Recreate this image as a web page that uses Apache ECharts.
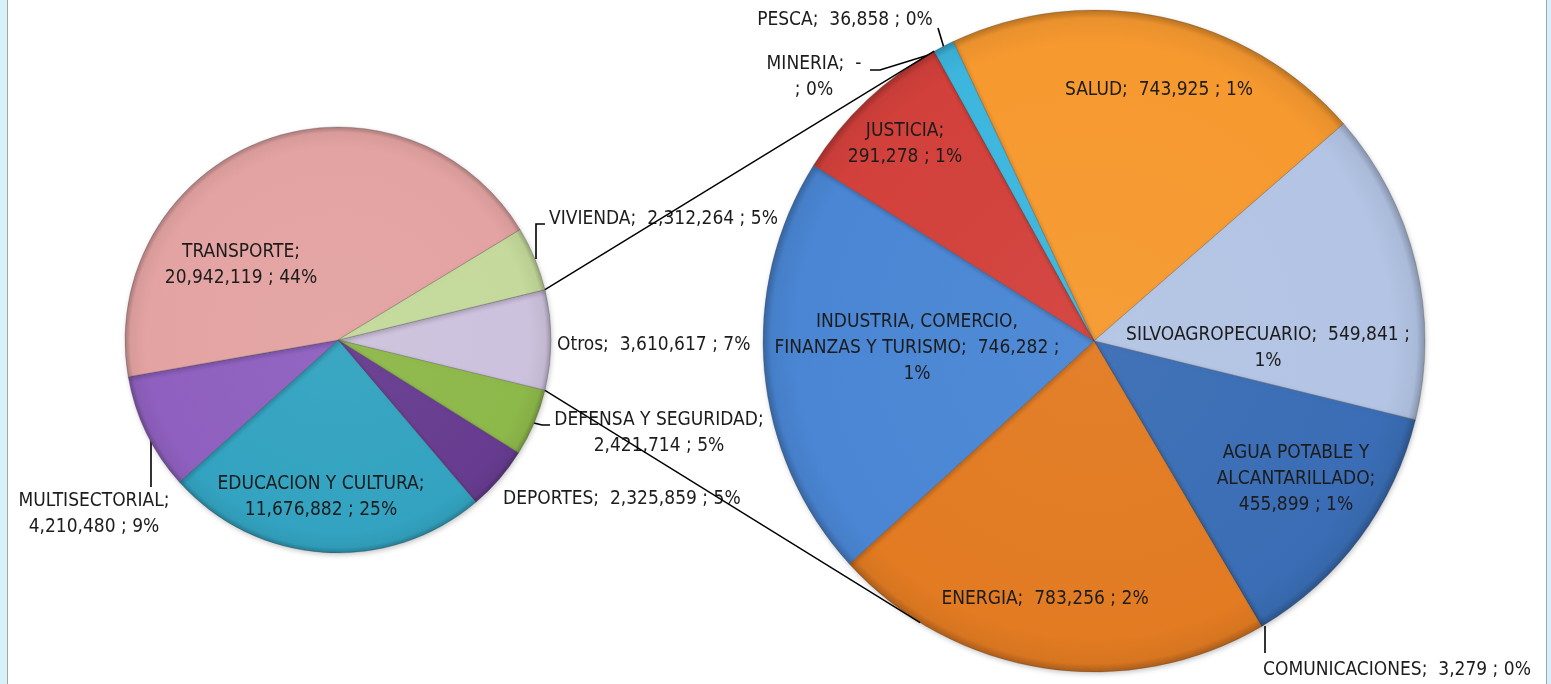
<!DOCTYPE html>
<html>
<head>
<meta charset="utf-8">
<title>Inversión por sector</title>
<script src="https://cdn.jsdelivr.net/npm/echarts@6/dist/echarts.min.js"></script>
<style>
html, body { margin: 0; padding: 0; width: 1551px; height: 684px; overflow: hidden; background: #d6f1f9; }
.sheet { position: absolute; left: 7px; top: 0; width: 1538px; height: 684px; background: #fff; border-left: 1px solid #a3a3a3; border-right: 1px solid #a3a3a3; }
#chart { position: absolute; left: 0; top: 0; width: 1551px; height: 684px; }
</style>
</head>
<body>
<div class="sheet"></div>
<div id="chart"></div>
<script>
// primer circulo: sectores (Otros va primero, centrado a la derecha)
const mainNames = ['Otros', 'DEFENSA Y SEGURIDAD', 'DEPORTES', 'EDUCACION Y CULTURA', 'MULTISECTORIAL', 'TRANSPORTE', 'VIVIENDA']
const mainValues = [3610617, 2421714, 2325859, 11676882, 4210480, 20942119, 2312264]
const mainPct = [7, 5, 5, 25, 9, 44, 5]
const mainColors = ['#cdc2dd', '#8db84a', '#673c90', '#33a3c1', '#8f60bf', '#e3a3a2', '#c4d99b']

// segundo circulo: desglose de Otros
const otrosNames = ['SALUD', 'SILVOAGROPECUARIO', 'AGUA POTABLE Y ALCANTARILLADO', 'COMUNICACIONES', 'ENERGIA', 'INDUSTRIA, COMERCIO, FINANZAS Y TURISMO', 'JUSTICIA', 'MINERIA', 'PESCA']
const otrosValues = [743925, 549841, 455899, 3279, 783256, 746282, 291278, 0, 36858]
const otrosPct = [1, 1, 1, 0, 2, 1, 1, 0, 0]
const otrosColors = ['#f6992f', '#b3c4e4', '#3a6db5', '#2f5e9e', '#e27b22', '#4a86d4', '#d2403b', '#8a8a8a', '#3db6de']

// geometria
const left = { cx: 338, cy: 340, r: 213 }
const right = { cx: 1094, cy: 341, r: 331, start: 115.2 }
const bottomLinkAngle = -121.7

// posicion de etiquetas (brk: donde corta la linea)
const mainLayout = [
  { x: 557, y: 345, align: 'left', brk: 'none' },
  { x: 659, y: 433, brk: 'name', line: [[534, 423], [542, 425], [550, 425]] },
  { x: 503, y: 499, align: 'left', brk: 'none' },
  { x: 321, y: 497, brk: 'name' },
  { x: 94, y: 514, brk: 'name', line: [[151, 436], [151, 460], [151, 487]] },
  { x: 241, y: 265, brk: 'name' },
  { x: 549, y: 219, align: 'left', brk: 'none', line: [[536, 259], [536, 224], [545, 224]] },
]
const otrosLayout = [
  { x: 1159, y: 90, brk: 'none' },
  { x: 1268, y: 348, brk: 'value' },
  { x: 1296, y: 479, brk: 'name', wrapAt: 'POTABLE Y' },
  { x: 1263, y: 670, align: 'left', brk: 'none', line: [[1265, 626], [1265, 640], [1265, 653]] },
  { x: 1045, y: 599, brk: 'none' },
  { x: 917, y: 348, brk: 'value', wrapAt: 'COMERCIO,' },
  { x: 905, y: 144, brk: 'name' },
  { x: 814, y: 77, brk: 'semi', line: [[935, 53], [880, 70], [870, 70]] },
  { x: 845, y: 20, brk: 'none', line: [[944, 48], [941, 38], [938, 28]] },
]

function fmt(v) {
  return v === 0 ? '-' : v.toLocaleString('en-US')
}

function labelText(name, value, pct, L) {
  let n = L.wrapAt ? name.replace(L.wrapAt + ' ', L.wrapAt + '\n') : name
  const v = fmt(value)
  if (L.brk === 'name') return n + ';\n' + v + ' ; ' + pct + '%'
  if (L.brk === 'value') return n + ';  ' + v + ' ;\n' + pct + '%'
  if (L.brk === 'semi') return n + ';  ' + v + '\n; ' + pct + '%'
  return n + ';  ' + v + ' ; ' + pct + '%'
}

function hex2rgb(h) {
  return [parseInt(h.slice(1, 3), 16), parseInt(h.slice(3, 5), 16), parseInt(h.slice(5, 7), 16)]
}
function mix(h, target, t) {
  const a = hex2rgb(h)
  return 'rgb(' + a.map((c) => Math.round(c + (target - c) * t)).join(',') + ')'
}
function shade(base, g) {
  return {
    type: 'radial', x: g.cx, y: g.cy, r: g.r, global: true,
    colorStops: [
      { offset: 0, color: mix(base, 255, 0.04) },
      { offset: 0.9, color: base },
      { offset: 0.975, color: mix(base, 0, 0.05) },
      { offset: 1, color: mix(base, 0, 0.25) },
    ],
  }
}

function polar(g, deg) {
  const a = (deg * Math.PI) / 180
  return [g.cx + g.r * Math.cos(a), g.cy - g.r * Math.sin(a)]
}

const sum = (arr) => arr.reduce((p, c) => p + c, 0)
const halfOtros = (mainValues[0] / sum(mainValues)) * 180

function buildData(names, values, pcts, colors, layout, g) {
  return names.map((name, i) => ({
    name: name,
    value: values[i],
    label: { formatter: labelText(name, values[i], pcts[i], layout[i]) },
    labelLine: { show: !!layout[i].line },
    itemStyle: { color: shade(colors[i], g) },
  }))
}

function layoutFn(layout) {
  return function (params) {
    const L = layout[params.dataIndex]
    const out = { x: L.x, y: L.y, align: L.align || 'center', verticalAlign: 'middle' }
    if (L.line) out.labelLinePoints = L.line
    return out
  }
}

const labelStyle = {
  position: 'outside',
  color: '#1c1c1c',
  fontFamily: "'DejaVu Sans Condensed', 'Liberation Sans Narrow', sans-serif",
  fontSize: 19,
  lineHeight: 26,
}
const pieItemStyle = {
  borderColor: 'rgba(60,60,60,0.3)',
  borderWidth: 0.8,
  shadowBlur: 5,
  shadowOffsetX: 1,
  shadowOffsetY: 2,
  shadowColor: 'rgba(0,0,0,0.22)',
}

const pescaEnd = right.start + (otrosValues[otrosValues.length - 1] / sum(otrosValues)) * 360
const topA = polar(left, halfOtros), topB = polar(right, pescaEnd)
const botA = polar(left, -halfOtros), botB = polar(right, bottomLinkAngle)

const chart = echarts.init(document.getElementById('chart'))
chart.setOption({
  animation: false,
  series: [
    {
      name: 'Sectores',
      type: 'pie',
      center: [left.cx, left.cy],
      radius: left.r,
      startAngle: halfOtros,
      clockwise: true,
      avoidLabelOverlap: false,
      emphasis: { disabled: true },
      label: labelStyle,
      labelLine: { show: false, smooth: false, lineStyle: { color: '#000', width: 1.6 } },
      labelLayout: layoutFn(mainLayout),
      itemStyle: pieItemStyle,
      data: buildData(mainNames, mainValues, mainPct, mainColors, mainLayout, left),
    },
    {
      name: 'Otros',
      type: 'pie',
      center: [right.cx, right.cy],
      radius: right.r,
      startAngle: right.start,
      clockwise: true,
      avoidLabelOverlap: false,
      emphasis: { disabled: true },
      label: labelStyle,
      labelLine: { show: false, smooth: false, lineStyle: { color: '#000', width: 1.6 } },
      labelLayout: layoutFn(otrosLayout),
      itemStyle: pieItemStyle,
      data: buildData(otrosNames, otrosValues, otrosPct, otrosColors, otrosLayout, right),
    },
  ],
  graphic: [
    { type: 'line', z: 100, shape: { x1: topA[0], y1: topA[1], x2: topB[0], y2: topB[1] }, style: { stroke: '#000', lineWidth: 1.4 } },
    { type: 'line', z: 100, shape: { x1: botA[0], y1: botA[1], x2: botB[0], y2: botB[1] }, style: { stroke: '#000', lineWidth: 1.4 } },
  ],
})
</script>
</body>
</html>
